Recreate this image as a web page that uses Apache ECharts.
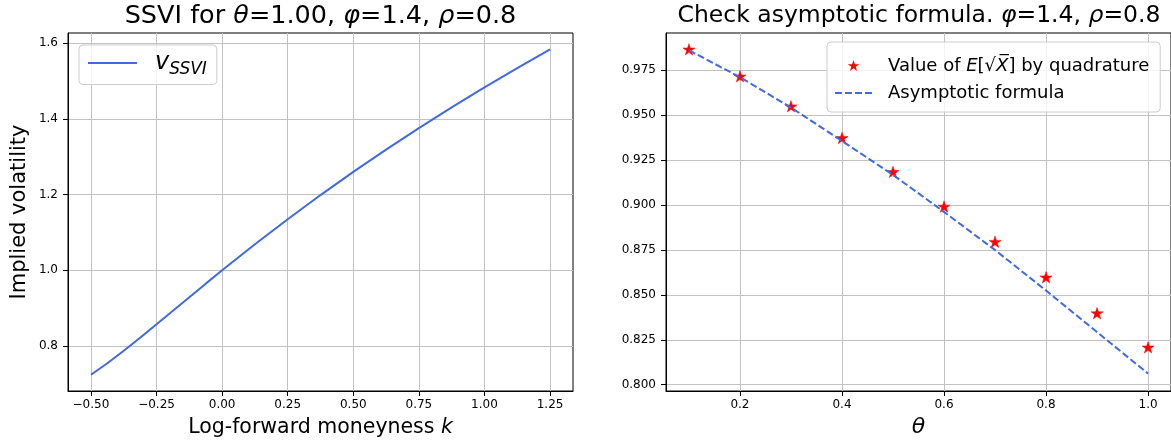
<!DOCTYPE html>
<html>
<head>
<meta charset="utf-8">
<script src="https://cdn.jsdelivr.net/npm/echarts@6/dist/echarts.min.js"></script>
<style>
html,body{margin:0;padding:0;background:#fff;}
#chart{width:1171px;height:443px;}
</style>
</head>
<body>
<div id="chart"></div>
<script>
// ---------- data ----------
const kValues = [-0.5, -0.4375, -0.375, -0.3125, -0.25, -0.1875, -0.125, -0.0625, 0, 0.125, 0.25, 0.375, 0.5, 0.625, 0.75, 0.875, 1.0, 1.125, 1.25];
const ssviVol = [0.7240, 0.7545, 0.7874, 0.8219, 0.8573, 0.8932, 0.9291, 0.9648, 1.0000, 1.0688, 1.1351, 1.1989, 1.2601, 1.3190, 1.3757, 1.4304, 1.4833, 1.5345, 1.5842];

const thetaValues = [0.1, 0.2, 0.3, 0.4, 0.5, 0.6, 0.7, 0.8, 0.9, 1.0];
const quadValues  = [0.9867, 0.9717, 0.9550, 0.9374, 0.9185, 0.8992, 0.8796, 0.8598, 0.8398, 0.8208];
const asymValues  = [0.9862, 0.9712, 0.9543, 0.9357, 0.9168, 0.8962, 0.8750, 0.8524, 0.8293, 0.8062];

const leftXTicks  = [-0.5, -0.25, 0, 0.25, 0.5, 0.75, 1.0, 1.25];
const leftYTicks  = [0.8, 1.0, 1.2, 1.4, 1.6];
const rightXTicks = [0.2, 0.4, 0.6, 0.8, 1.0];
const rightYTicks = [0.800, 0.825, 0.850, 0.875, 0.900, 0.925, 0.950, 0.975];

// ---------- styling ----------
const FONT = 'DejaVu Sans';
const BLUE = '#4169E1';
const GRIDC = '#c2c2c2';
const STAR_PATH = 'M0,-100 L-22.45,-30.9 L-95.1,-30.9 L-36.33,11.8 L-58.8,80.9 L0,38.2 L58.8,80.9 L36.33,11.8 L95.1,-30.9 L22.45,-30.9 Z';
const STAR = 'path://' + STAR_PATH;
// same star, padded with empty extent so the legend icon renders smaller
const STAR_LEGEND = 'path://M-165,-165 L-165,-165 M165,165 L165,165 ' + STAR_PATH;

function fmt(dec) {
  return function (v) {
    const s = Math.abs(v).toFixed(dec);
    return (v < -1e-9 ? '\u2212' : '') + s;
  };
}

function axis(gridIndex, min, max, ticks, dec, extra) {
  return Object.assign({
    type: 'value',
    gridIndex: gridIndex,
    min: min,
    max: max,
    axisLine: { show: true, onZero: false, lineStyle: { color: '#000', width: 1 } },
    axisTick: { show: true, inside: false, length: 5, customValues: ticks, lineStyle: { color: '#000', width: 1 } },
    axisLabel: { show: true, customValues: ticks, formatter: fmt(dec), fontFamily: FONT, fontSize: 12, color: '#000', margin: 8 },
    splitLine: { show: true, lineStyle: { color: GRIDC, width: 1 } }
  }, extra || {});
}

const chart = echarts.init(document.getElementById('chart'), null, { renderer: 'canvas' });

const option = {
  animation: false,
  backgroundColor: '#fff',
  grid: [
    { left: 68, top: 33, width: 505, height: 358, show: true, borderColor: '#000', borderWidth: 1, backgroundColor: 'transparent' },
    { left: 666, top: 33, width: 506, height: 358, show: true, borderColor: '#000', borderWidth: 1, backgroundColor: 'transparent' }
  ],
  xAxis: [
    axis(0, -0.5875, 1.3375, leftXTicks, 2, {
      name: 'Log-forward moneyness {i|k}', nameLocation: 'middle', nameGap: 26,
      nameTextStyle: { fontFamily: FONT, fontSize: 20.5, color: '#000', verticalAlign: 'top',
        rich: { i: { fontFamily: FONT, fontSize: 20.5, fontStyle: 'italic', color: '#000' } } }
    }),
    axis(1, 0.055, 1.045, rightXTicks, 1, {
      name: '{i|\u03b8}', nameLocation: 'middle', nameGap: 24,
      nameTextStyle: { fontFamily: FONT, fontSize: 20, color: '#000', verticalAlign: 'top',
        rich: { i: { fontFamily: FONT, fontSize: 22, fontStyle: 'italic', color: '#000' } } }
    })
  ],
  yAxis: [
    axis(0, 0.6811, 1.6272, leftYTicks, 1, {
      name: 'Implied volatility', nameLocation: 'middle', nameGap: 38,
      nameTextStyle: { fontFamily: FONT, fontSize: 21, color: '#000' },
      axisLabel: { show: true, customValues: leftYTicks, formatter: fmt(1), fontFamily: FONT, fontSize: 12, color: '#000', margin: 10 }
    }),
    axis(1, 0.7965, 0.9958, rightYTicks, 3, {
      axisLabel: { show: true, customValues: rightYTicks, formatter: fmt(3), fontFamily: FONT, fontSize: 12, color: '#000', margin: 10 }
    })
  ],
  legend: [
    {
      left: 79, top: 45, orient: 'vertical',
      padding: [6, 10, 6, 8],
      backgroundColor: 'rgba(255,255,255,0.8)',
      borderColor: '#cccccc', borderWidth: 1, borderRadius: 4,
      selectedMode: false,
      itemWidth: 49, itemHeight: 12,
      data: [{ name: 'ssvi', itemStyle: { opacity: 0 } }],
      formatter: function () { return '{g|}{v|v}{s|SSVI}'; },
      textStyle: {
        fontFamily: FONT, color: '#000', fontSize: 24,
        rich: {
          g: { width: 13 },
          v: { fontFamily: FONT, fontSize: 24, fontStyle: 'italic', color: '#000', lineHeight: 30 },
          s: { fontFamily: FONT, fontSize: 17, fontStyle: 'italic', color: '#000', padding: [14, 0, 0, 0] }
        }
      }
    },
    {
      left: 827, top: 42, orient: 'vertical',
      padding: [14, 11, 9, 7],
      itemGap: 7,
      backgroundColor: 'rgba(255,255,255,0.8)',
      borderColor: '#cccccc', borderWidth: 1, borderRadius: 4,
      selectedMode: false,
      itemWidth: 37, itemHeight: 20,
      data: [
        { name: 'quad', icon: STAR_LEGEND, itemStyle: { borderWidth: 0 } },
        { name: 'asym', itemStyle: { opacity: 0 } }
      ],
      formatter: function (name) {
        if (name === 'quad') return '{g|}Value of {i|E}[\u221a{i|X\u0305}] by quadrature';
        return '{g|}Asymptotic formula';
      },
      textStyle: {
        fontFamily: FONT, color: '#000', fontSize: 18, lineHeight: 20,
        rich: {
          g: { width: 11 },
          i: { fontFamily: FONT, fontSize: 18, fontStyle: 'italic', color: '#000' }
        }
      }
    }
  ],
  graphic: [
    {
      type: 'text', x: 320.5, y: 16,
      style: {
        text: 'SSVI for {i|\u03b8}=1.00, {i|\u03c6}=1.4, {i|\u03c1}=0.8',
        fontFamily: FONT, fontSize: 25.5, fill: '#000',
        textAlign: 'center', textVerticalAlign: 'middle',
        rich: { i: { fontFamily: FONT, fontSize: 25.5, fontStyle: 'italic', fill: '#000', color: '#000' } }
      }
    },
    {
      type: 'text', x: 919, y: 16,
      style: {
        text: 'Check asymptotic formula. {i|\u03c6}=1.4, {i|\u03c1}=0.8',
        fontFamily: FONT, fontSize: 23.5, fill: '#000',
        textAlign: 'center', textVerticalAlign: 'middle',
        rich: { i: { fontFamily: FONT, fontSize: 23.5, fontStyle: 'italic', fill: '#000', color: '#000' } }
      }
    }
  ],
  series: [
    {
      name: 'ssvi', type: 'line', xAxisIndex: 0, yAxisIndex: 0,
      data: kValues.map((k, i) => [k, ssviVol[i]]),
      showSymbol: false, symbol: 'none', smooth: false,
      lineStyle: { color: BLUE, width: 2 }, itemStyle: { color: BLUE }
    },
    {
      name: 'quad', type: 'scatter', xAxisIndex: 1, yAxisIndex: 1,
      data: thetaValues.map((t, i) => [t, quadValues[i]]),
      symbol: STAR, symbolSize: 12, symbolKeepAspect: true,
      itemStyle: { color: '#ff0000', borderColor: '#ff0000', borderWidth: 0.5, opacity: 1 }
    },
    {
      name: 'asym', type: 'line', xAxisIndex: 1, yAxisIndex: 1,
      data: thetaValues.map((t, i) => [t, asymValues[i]]),
      showSymbol: false, symbol: 'none', smooth: false, z: 3,
      lineStyle: { color: BLUE, width: 2, type: [7, 3] }, itemStyle: { color: BLUE }
    }
  ]
};
chart.setOption(option);
</script>
</body>
</html>
